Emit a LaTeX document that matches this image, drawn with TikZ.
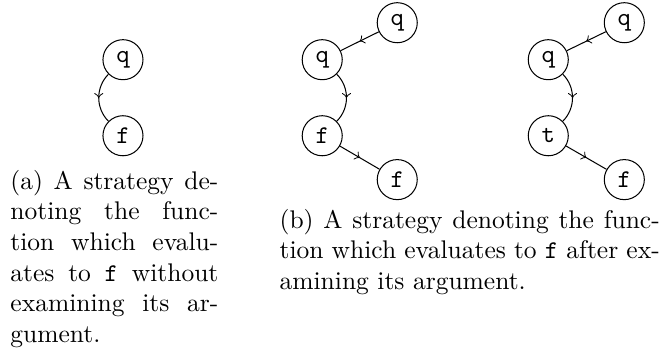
\documentclass[tikz,border=0pt]{standalone}
\usetikzlibrary{decorations.markings}
\tikzset{
  st/.style={circle,draw,inner sep=0pt,minimum size=15.7pt,font=\ttfamily},
  midarrow/.style={postaction={decorate},decoration={markings,mark=at position 0.5 with {\arrow{>}}}},
  captext/.style={anchor=north west,inner sep=0pt,align=justify,text width=#1}
}
\begin{document}
\begin{tikzpicture}[x=1pt,y=1pt]
\useasboundingbox (0,0) rectangle (263,140.4);
% (a)
\node[st] (aq) at (48.2,117) {q};
\node[st] (af) at (48.2,87.2) {f};
\draw[midarrow] (aq) to[bend right=45] (af);
% (b) left
\node[st] (bq1) at (155.7,131.5) {q};
\node[st] (bq2) at (126.3,117) {q};
\node[st] (bf1) at (126.3,87.2) {f};
\node[st] (bf2) at (155.7,70) {f};
\draw[midarrow] (bq1) -- (bq2);
\draw[midarrow] (bq2) to[bend left=45] (bf1);
\draw[midarrow] (bf1) -- (bf2);
% (b) right
\node[st] (cq1) at (244.7,131.5) {q};
\node[st] (cq2) at (214.9,117) {q};
\node[st] (ct) at (214.9,87.2) {t};
\node[st] (cf) at (244.7,70) {f};
\draw[midarrow] (cq1) -- (cq2);
\draw[midarrow] (cq2) to[bend left=45] (ct);
\draw[midarrow] (ct) -- (cf);
% captions
\node[captext=81.5pt] (capa) at (3.9,73.9) {(a) A strategy de-\linebreak noting the func-\linebreak tion which evalu-\linebreak ates to \texttt{f} without\linebreak examining its ar-\linebreak gument.};
\node[captext=149pt] (capb) at (109.4,58.6) {(b) A strategy denoting the func-\linebreak tion which evaluates to \texttt{f} after ex-\linebreak amining its argument.};
\end{tikzpicture}
\end{document}
